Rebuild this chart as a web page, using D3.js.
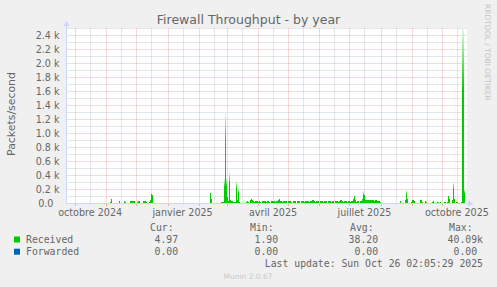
<!DOCTYPE html>
<html>
<head>
<meta charset="UTF-8">
<title>Firewall Throughput - by year</title>
<script src="https://cdn.jsdelivr.net/npm/d3@7"></script>
<style>
  body { margin: 0; background: #f0f0f0; }
  svg text { fill: #666666; font-family: "DejaVu Sans", sans-serif; white-space: pre; }
  svg text.mono { font-family: "DejaVu Sans Mono", monospace; font-size: 9.8px; }
</style>
</head>
<body>
<svg id="chart" width="497" height="287"></svg>
<script>
// received packets/second, one value per day, two runs of data (no data in between)
var autumnStart = "2024-11-04";
var receivedAutumn = [
  5, 8, 60, 4, 3, 3, 3, 4, 3, 5,
  22, 5, 3, 3, 4, 22, 18, 4, 3, 4,
  5, 25, 28, 30, 30, 22, 5, 4, 20, 25,
  22, 6, 5, 4, 22, 25, 24, 20, 5, 4,
  18, 40, 130, 110, 3
];
var mainStart = "2025-02-11";
var receivedMain = [
  4, 150, 60, 4, 3, 3, 3, 3, 3, 3,
  3, 4, 12, 15, 20, 350, 1300, 360, 80, 30,
  450, 40, 25, 25, 20, 8, 10, 310, 40, 220,
  15, 5, 4, 5, 4, 4, 5, 8, 25, 8,
  6, 40, 60, 45, 30, 10, 25, 22, 25, 8,
  22, 20, 6, 30, 35, 32, 30, 8, 22, 25,
  8, 6, 30, 35, 30, 28, 8, 25, 30, 45,
  60, 30, 25, 8, 25, 25, 28, 25, 6, 25,
  28, 25, 8, 6, 25, 30, 25, 7, 22, 25,
  25, 6, 30, 35, 32, 8, 25, 30, 35, 30,
  8, 25, 30, 40, 45, 30, 8, 25, 28, 25,
  6, 28, 30, 25, 8, 25, 30, 28, 7, 30,
  32, 30, 8, 25, 28, 6, 25, 28, 30, 8,
  25, 40, 50, 30, 8, 25, 30, 25, 8, 25,
  22, 8, 25, 30, 60, 107, 40, 8, 25, 22,
  6, 25, 30, 60, 178, 120, 45, 40, 42, 40,
  38, 40, 42, 40, 35, 38, 40, 35, 30, 25,
  8, 5, 4, 3, 3, 3, 3, 3, 3, 3,
  3, 3, 3, 3, 3, 3, 4, 3, 4, 5,
  30, 5, 4, 5, 4, 40, 190, 60, 5, 4,
  5, 20, 40, 50, 30, 5, 4, 5, 4, 5,
  40, 45, 20, 5, 4, 25, 20, 5, 4, 5,
  4, 5, 20, 22, 5, 4, 5, 20, 18, 5,
  15, 4, 5, 4, 15, 12, 5, 20, 107, 60,
  5, 4, 40, 300, 60, 5, 20, 15, 5, 4,
  5, 8, 2600, 40090, 200, 6, 5
];
var forwardedValue = 0;

var yTicks = [0, 200, 400, 600, 800, 1000, 1200, 1400, 1600, 1800, 2000, 2200, 2400];
var yTickLabels = ["0.0  ", "0.2 k", "0.4 k", "0.6 k", "0.8 k", "1.0 k", "1.2 k",
                   "1.4 k", "1.6 k", "1.8 k", "2.0 k", "2.2 k", "2.4 k"];
var xLabelMonths = ["2024-10-01", "2025-01-01", "2025-04-01", "2025-07-01", "2025-10-01"];
var xLabels = ["octobre 2024", "janvier 2025", "avril 2025", "juillet 2025", "octobre 2025"];

var seriesNames = ["Received", "Forwarded"];
var seriesColors = ["#00cc00", "#0066b3"];
var statHeads = ["Cur:", "Min:", "Avg:", "Max:"];
var receivedStats = ["4.97 ", "1.90 ", "38.20 ", "40.09k"];
var forwardedStats = ["0.00 ", "0.00 ", "0.00 ", "0.00 "];
var lastUpdate = "Last update: Sun Oct 26 02:05:29 2025";

var svg = d3.select("#chart");
var pLeft = 66.5, pRight = 467, pTop = 28.5, pBottom = 203.5;
var gridMinor = "rgba(143,143,143,0.45)", gridMajor = "rgba(222,79,79,0.42)";
var axisCol = "#CFD6F8";

var x = d3.scaleUtc()
  .domain([new Date(Date.UTC(2024, 8, 22, 12)), new Date(Date.UTC(2025, 9, 26))])
  .range([pLeft, pRight]);
var y = d3.scaleLinear().domain([0, 2500]).range([pBottom, pTop]).clamp(true);

// canvas
svg.append("rect").attr("x", pLeft).attr("y", pTop - 0.5)
  .attr("width", pRight - pLeft).attr("height", pBottom - pTop + 0.5).attr("fill", "#fff");

// grid
var g = svg.append("g").attr("stroke-dasharray", "1,1").attr("stroke-width", 1);
var months = d3.utcMonth.range(x.domain()[0], x.domain()[1]);
var mids = months.map(function (m) { return d3.utcDay.offset(m, 15); })
  .filter(function (d) { return d < x.domain()[1]; });
d3.range(100, 2600, 200).forEach(function (v) {
  g.append("line").attr("x1", pLeft).attr("x2", pRight)
    .attr("y1", y(v)).attr("y2", y(v)).attr("stroke", gridMinor);
});
mids.forEach(function (d) {
  var px = Math.round(x(d)) + 0.5;
  g.append("line").attr("x1", px).attr("x2", px)
    .attr("y1", pTop).attr("y2", pBottom).attr("stroke", gridMinor);
});
yTicks.slice(1).forEach(function (v) {
  g.append("line").attr("x1", pLeft).attr("x2", pRight)
    .attr("y1", y(v)).attr("y2", y(v)).attr("stroke", gridMajor);
});
months.forEach(function (d) {
  var px = Math.round(x(d)) + 0.5;
  g.append("line").attr("x1", px).attr("x2", px)
    .attr("y1", pTop).attr("y2", pBottom).attr("stroke", gridMajor);
  svg.append("line").attr("x1", px).attr("x2", px)
    .attr("y1", pBottom).attr("y2", pBottom + 2.5).attr("stroke", gridMajor);
});

// bars fade towards the top
var defs = svg.append("defs");
var grad = defs.append("linearGradient").attr("id", "fade")
  .attr("x1", 0).attr("y1", 0).attr("x2", 0).attr("y2", 1);
grad.append("stop").attr("offset", 0).attr("stop-color", "#e6fae6");
grad.append("stop").attr("offset", 0.35).attr("stop-color", "#00cc00");
grad.append("stop").attr("offset", 1).attr("stop-color", "#00cc00");
defs.append("clipPath").attr("id", "plot").append("rect")
  .attr("x", pLeft).attr("y", pTop - 0.5).attr("width", pRight - pLeft).attr("height", pBottom - pTop + 0.5);

var runs = [
  { start: new Date(autumnStart + "T00:00Z"), values: receivedAutumn },
  { start: new Date(mainStart + "T00:00Z"), values: receivedMain }
];
var days = [];
runs.forEach(function (r) {
  r.values.forEach(function (v, i) {
    days.push({ date: d3.utcDay.offset(r.start, i), value: v });
  });
});

var plot = svg.append("g").attr("clip-path", "url(#plot)");
plot.selectAll("rect.bar").data(days).enter().append("rect")
  .attr("class", "bar")
  .attr("x", function (d) { return Math.round(x(d.date)); })
  .attr("width", function (d) {
    return Math.max(1, Math.round(x(d3.utcDay.offset(d.date, 1))) - Math.round(x(d.date)));
  })
  .attr("y", function (d) { return Math.floor(y(d.value)); })
  .attr("height", function (d) { return Math.max(0, pBottom - Math.floor(y(d.value))); })
  .attr("fill", function (d) { return pBottom - y(d.value) > 12 ? "url(#fade)" : "#00cc00"; })
  .attr("shape-rendering", "crispEdges");

// axes
svg.append("line").attr("x1", pLeft).attr("x2", 469).attr("y1", pBottom).attr("y2", pBottom)
  .attr("stroke", axisCol);
svg.append("line").attr("x1", pLeft).attr("x2", pLeft).attr("y1", pBottom).attr("y2", 24)
  .attr("stroke", axisCol);
svg.append("path").attr("d", "M468,200.5L473.5,203.5L468,206.5Z").attr("fill", axisCol);
svg.append("path").attr("d", "M63.5,26L66.5,20.5L69.5,26Z").attr("fill", axisCol);

// forwarded line at 0 where data exists
runs.forEach(function (r) {
  var line = d3.line()
    .x(function (v, i) { return x(d3.utcDay.offset(r.start, i)); })
    .y(function () { return y(forwardedValue); });
  plot.append("path").datum(r.values.concat([0]))
    .attr("d", line).attr("fill", "none")
    .attr("stroke", seriesColors[1]).attr("stroke-opacity", 0.45).attr("stroke-width", 1);
});

// tick labels
svg.selectAll("text.ytick").data(yTicks).enter().append("text")
  .attr("class", "ytick")
  .attr("x", 59.5).attr("y", function (d) { return y(d) + 3.3; })
  .attr("text-anchor", "end").attr("font-size", 9.6)
  .text(function (d, i) { return yTickLabels[i]; });
svg.selectAll("text.xtick").data(xLabelMonths).enter().append("text")
  .attr("class", "xtick")
  .attr("x", function (d) { return x(d3.utcDay.offset(new Date(d + "T00:00Z"), 15)); })
  .attr("y", 216).attr("text-anchor", "middle").attr("font-size", 9.6)
  .text(function (d, i) { return xLabels[i]; });

// titles
svg.append("text").attr("x", 248.5).attr("y", 24).attr("text-anchor", "middle")
  .attr("font-size", 12.5).text("Firewall Throughput - by year");
svg.append("text").attr("transform", "translate(15,114) rotate(-90)")
  .attr("text-anchor", "middle").attr("font-size", 10.9).text("Packets/second");
svg.append("text").attr("transform", "translate(485,4) rotate(90)")
  .attr("font-size", 7.5).style("fill", "#c4c4c4").text("RRDTOOL / TOBI OETIKER");

// legend
var colX = [184, 284, 384, 483];
statHeads.forEach(function (h, i) {
  svg.append("text").attr("class", "mono").attr("x", colX[i] - 34).attr("y", 230.8).text(h);
});
[receivedStats, forwardedStats].forEach(function (row, r) {
  var cy = 239.5 + r * 12.2;
  svg.append("rect").attr("x", 14).attr("y", cy - 3).attr("width", 6).attr("height", 6)
    .attr("fill", seriesColors[r]);
  svg.append("text").attr("class", "mono").attr("x", 26).attr("y", cy + 3.4).text(seriesNames[r]);
  row.forEach(function (v, i) {
    svg.append("text").attr("class", "mono").attr("x", colX[i]).attr("y", cy + 3.4)
      .attr("text-anchor", "end").text(v);
  });
});
svg.append("text").attr("class", "mono").attr("x", 483).attr("y", 266.8)
  .attr("text-anchor", "end").text(lastUpdate);
svg.append("text").attr("x", 248).attr("y", 278.8).attr("text-anchor", "middle")
  .attr("font-size", 7.5).style("fill", "#c8c8c8").text("Munin 2.0.67");
</script>
</body>
</html>
